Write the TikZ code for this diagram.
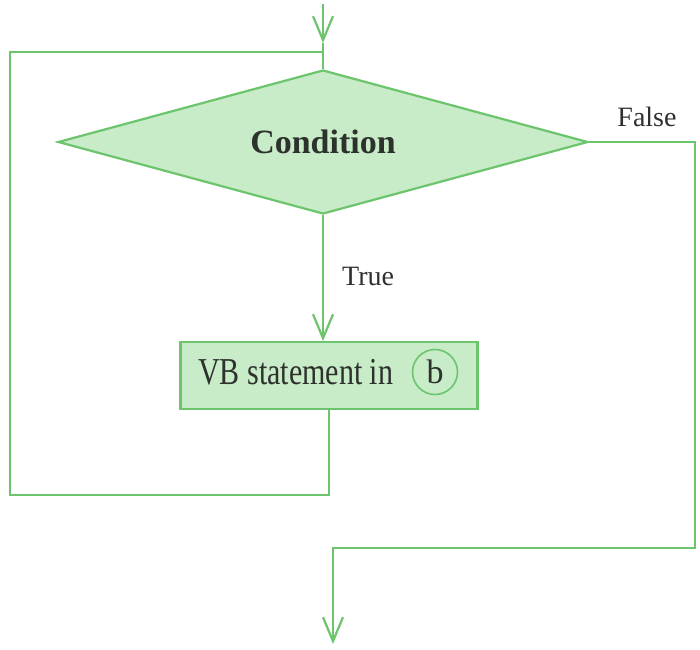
\documentclass[tikz,border=0pt]{standalone}
\usepackage{fontspec}
\setmainfont{Liberation Serif}
\newfontfamily\narrowserif[FakeStretch=0.79]{Liberation Serif}
\usetikzlibrary{positioning,arrows.meta,shapes.geometric}
\definecolor{Leaf}{RGB}{108,196,108}
\definecolor{Mint}{RGB}{200,235,200}
\definecolor{Ink}{RGB}{45,50,45}

\begin{document}
\begin{tikzpicture}[x=1pt,y=-1pt,
 d/.style={diamond,shape aspect=3.7,draw=Leaf,fill=Mint,line width=2.2pt,minimum width=530pt,minimum height=144pt,inner sep=0pt,text=Ink,font=\fontsize{34}{34}\selectfont\bfseries},
 b/.style={rectangle,draw=Leaf,fill=Mint,line width=2.2pt,minimum width=297pt,minimum height=67pt},
 c/.style={circle,draw=Leaf,line width=1.6pt,minimum size=45pt,inner sep=0pt,text=Ink,font=\fontsize{34}{34}\selectfont},
 t/.style={text=Ink,font=\fontsize{28}{28}\selectfont,inner sep=0pt},
 l/.style={draw=Leaf,line width=2.2pt},
 a/.style={l,-{Straight Barb[length=24pt,width=20pt]}}]
\useasboundingbox (0,0) rectangle (700,649);
\node[d] (cond) at (323,142) {Condition};
\node[b,below=126pt of cond,xshift=6pt] (stmt) {};
\node[t,font=\narrowserif\fontsize{38}{38}\selectfont,anchor=base west] (vb) at (198,384) {VB statement in};
\node[c] (bref) at (435,372) {b};
\node[t,anchor=west] (tr) at (342,276) {True};
\node[t] (fa) at (647,117) {False};
\coordinate (top) at (323,4);
\coordinate (in) at (323,43);
\coordinate (join) at (323,52);
\coordinate (back) at (10,495);
\coordinate (fdown) at (695,548);
\coordinate (exit) at (333,548);
\coordinate (end) at (333,644);
\draw[a] (top)--(in);\draw[l] (in)--(cond.north);
\draw[a] (cond.south)--(cond.south |- stmt.north);
\draw[l] (stmt.south) |- (back) |- (join);
\draw[a] (cond.east) -| (fdown) -- (exit) -- (end);
\end{tikzpicture}
\end{document}
